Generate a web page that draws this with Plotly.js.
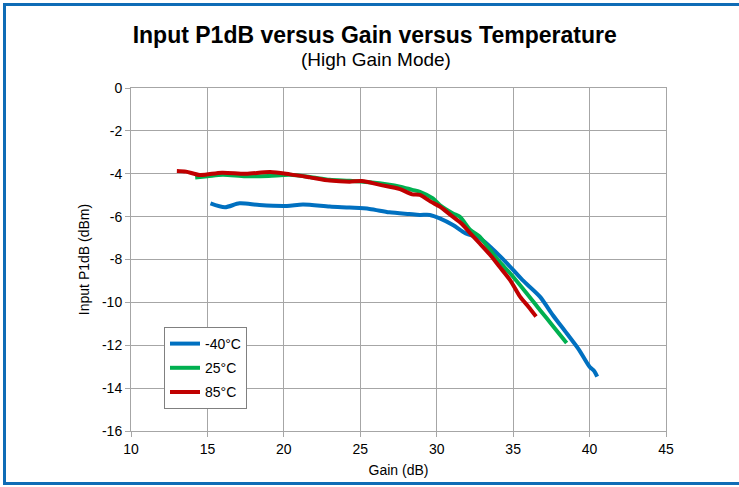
<!DOCTYPE html>
<html>
<head>
<meta charset="utf-8">
<script src="https://cdn.plot.ly/plotly-3.0.1.min.js"></script>
<style>
html,body{margin:0;padding:0;background:#fff;}
#chart{width:739px;height:487px;}
</style>
</head>
<body>
<div id="chart"></div>
<script>
// Data
const gainM40 = [15.2, 16.15, 17.1, 18.4, 20.2, 21.25, 23.0, 24.3, 25.6, 26.9, 28.2, 28.9, 29.55, 30.2, 31.06, 31.9, 32.8, 33.5, 34.6, 35.6, 36.75, 37.6, 38.5, 39.3, 40.0, 40.3, 40.5];
const p1dbM40 = [-5.38, -5.56, -5.38, -5.46, -5.5, -5.43, -5.53, -5.58, -5.64, -5.8, -5.88, -5.92, -5.92, -6.08, -6.39, -6.78, -7.0, -7.4, -8.18, -8.95, -9.73, -10.6, -11.44, -12.2, -13.0, -13.2, -13.46];

const gain25 = [14.2, 15.0, 16.0, 17.5, 19.0, 20.4, 21.7, 23.0, 24.3, 25.6, 26.8, 27.6, 28.4, 28.9, 29.75, 30.2, 31.06, 31.5, 32.2, 32.8, 33.5, 34.1, 34.8, 35.8, 36.75, 37.6, 38.5];
const p1db25 = [-4.17, -4.12, -4.05, -4.12, -4.1, -4.05, -4.15, -4.28, -4.33, -4.4, -4.5, -4.6, -4.75, -4.84, -5.15, -5.46, -5.85, -6.0, -6.62, -6.93, -7.56, -8.1, -8.64, -9.5, -10.35, -11.1, -11.9];

const gain85 = [13.0, 13.6, 14.5, 15.95, 17.5, 19.1, 20.4, 21.7, 23.0, 24.3, 25.1, 26.3, 27.6, 28.4, 28.9, 29.6, 30.2, 30.9, 31.6, 32.2, 32.8, 33.5, 34.1, 34.8, 35.45, 36.0, 36.5];
const p1db85 = [-3.87, -3.9, -4.06, -3.95, -4.0, -3.92, -4.03, -4.17, -4.32, -4.37, -4.34, -4.52, -4.72, -4.96, -4.99, -5.3, -5.53, -5.92, -6.31, -6.78, -7.24, -7.79, -8.33, -8.96, -9.73, -10.2, -10.66];

const seriesNames = ['-40°C', '25°C', '85°C'];
const seriesColors = ['#0070c0', '#00b050', '#c00000'];
const xTicks = [10, 15, 20, 25, 30, 35, 40, 45];
const yTicks = [0, -2, -4, -6, -8, -10, -12, -14, -16];

const xs = [gainM40, gain25, gain85];
const ys = [p1dbM40, p1db25, p1db85];

const traces = seriesNames.map((n, i) => ({
  x: xs[i], y: ys[i], name: n, type: 'scatter', mode: 'lines',
  legendgroup: 'g' + i,
  line: {color: seriesColors[i], width: 4, shape: 'spline', smoothing: 0.8}
}));

const FONT = 'Liberation Sans, Arial, sans-serif';
const layout = {
  width: 739, height: 487,
  margin: {l: 131, r: 73, t: 88, b: 56},
  paper_bgcolor: '#ffffff', plot_bgcolor: '#ffffff',
  font: {family: FONT, color: '#000'},
  title: {
    text: '<b>Input P1dB versus Gain versus Temperature</b>',
    font: {family: FONT, size: 23, color: '#000'},
    x: 0.507, xref: 'container', xanchor: 'center',
    y: 0.928, yref: 'container', yanchor: 'middle'
  },
  annotations: [{
    text: '(High Gain Mode)', xref: 'paper', yref: 'paper',
    x: (375.5 - 131) / 535, y: (431 - 60) / 343,
    xanchor: 'center', yanchor: 'middle', showarrow: false,
    font: {family: FONT, size: 19, color: '#000'}
  }],
  xaxis: {
    range: [10, 45], tickvals: xTicks, ticktext: xTicks.map(String),
    showgrid: true, gridcolor: '#a6a6a6', gridwidth: 1,
    showline: true, linecolor: '#a6a6a6', linewidth: 1, mirror: true,
    ticks: 'outside', ticklen: 5, tickcolor: '#a6a6a6',
    zeroline: false,
    tickfont: {family: FONT, size: 14, color: '#000'},
    title: {text: 'Gain (dB)', font: {family: FONT, size: 14, color: '#000'}, standoff: 9}
  },
  yaxis: {
    range: [-16, 0], tickvals: yTicks, ticktext: yTicks.map(String),
    showgrid: true, gridcolor: '#a6a6a6', gridwidth: 1,
    showline: true, linecolor: '#a6a6a6', linewidth: 1, mirror: true,
    ticks: 'outside', ticklen: 5, tickcolor: '#a6a6a6',
    zeroline: false,
    tickfont: {family: FONT, size: 14, color: '#000'},
    title: {text: 'Input P1dB (dBm)', font: {family: FONT, size: 14, color: '#000'}, standoff: 9}
  },
  showlegend: true,
  legend: {
    x: (164 - 131) / 535, y: (431 - 327) / 343, xanchor: 'left', yanchor: 'top',
    bgcolor: '#ffffff', bordercolor: '#808080', borderwidth: 1,
    font: {family: FONT, size: 14, color: '#000'},
    traceorder: 'grouped', tracegroupgap: 3
  },
  shapes: [{
    type: 'rect', xref: 'paper', yref: 'paper', layer: 'above',
    x0: (4.5 - 131) / 535, x1: (750 - 131) / 535,
    y0: (431 - 483.5) / 343, y1: (431 - 4.5) / 343,
    line: {color: '#0f6cb6', width: 3}, fillcolor: 'rgba(0,0,0,0)'
  }]
};

Plotly.newPlot('chart', traces, layout, {displayModeBar: false, staticPlot: true});
</script>
</body>
</html>
